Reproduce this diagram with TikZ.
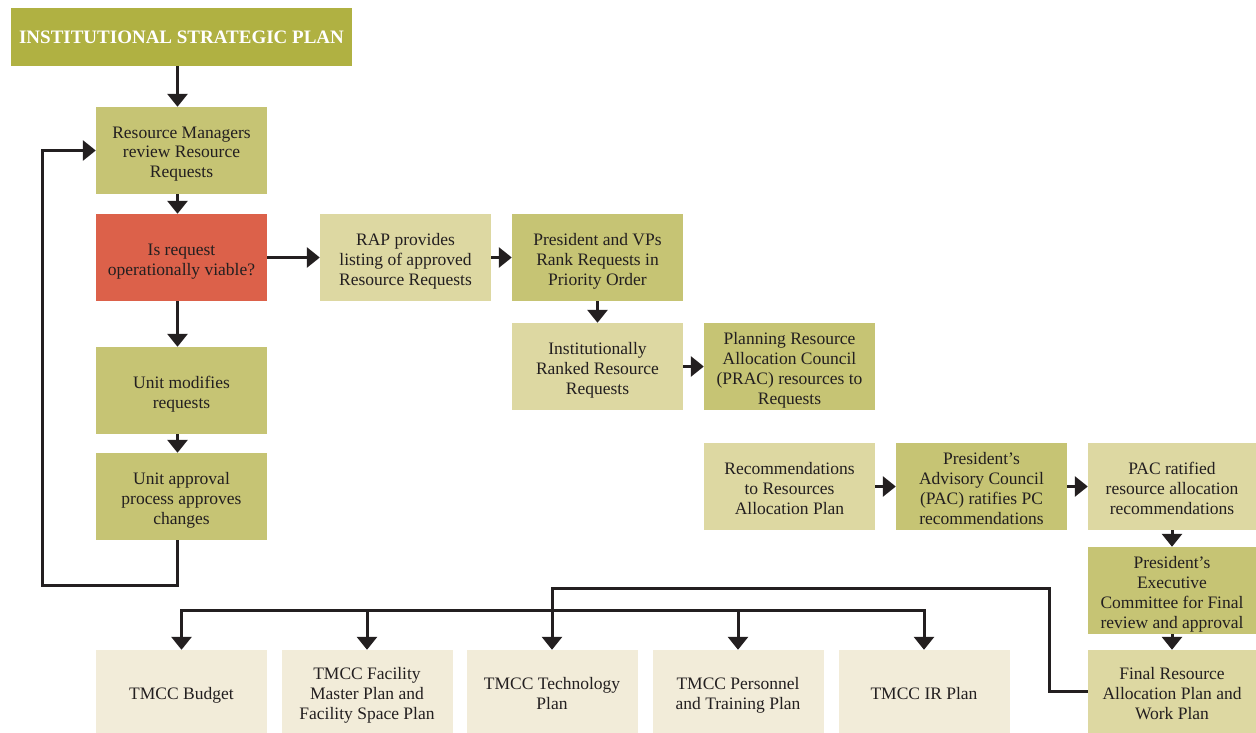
\documentclass[tikz,border=0pt]{standalone}
\usepackage{fontspec}
\setmainfont{Liberation Serif}
\usetikzlibrary{arrows.meta}
\definecolor{titlecol}{HTML}{B0B142}
\definecolor{midcol}{HTML}{C6C474}
\definecolor{lightcol}{HTML}{DDD8A2}
\definecolor{creamcol}{HTML}{F2ECD9}
\definecolor{redcol}{HTML}{DC614A}
\definecolor{inkcol}{HTML}{231F20}
\newcommand\bt[1]{\raisebox{-3.5pt}[\height][\depth]{\begin{tabular}{@{}c@{}}#1\end{tabular}}}
\begin{document}
\begin{tikzpicture}[x=1pt,y=-1pt,
  box/.style={inner sep=0pt, align=center, text=inkcol, font=\fontsize{17.5}{20}\selectfont, minimum width=171pt, minimum height=87pt},
  midbox/.style={box, fill=midcol},
  lightbox/.style={box, fill=lightcol},
  redbox/.style={box, fill=redcol},
  creambox/.style={box, fill=creamcol, minimum height=83pt},
  arr/.style={draw=inkcol, line width=3pt, -{Triangle[width=20pt,length=13pt]}},
  ln/.style={draw=inkcol, line width=3pt}
]
\useasboundingbox (0,0) rectangle (1256,733);

\node[fill=titlecol, inner sep=0pt, minimum width=341pt, minimum height=58pt, text=white, font=\fontsize{19}{22}\selectfont\bfseries] (title) at (181.5,37) {INSTITUTIONAL STRATEGIC PLAN};
\node[midbox] (rm) at (181.5,150.5) {\bt{Resource Managers\\review Resource\\Requests}};
\node[redbox] (q) at (181.5,257.5) {\bt{Is request\\operationally viable?}};
\node[midbox] (mod) at (181.5,390.5) {\bt{Unit modifies\\requests}};
\node[midbox] (appr) at (181.5,496.5) {\bt{Unit approval\\process approves\\changes}};
\node[lightbox] (rap) at (405.5,257.5) {\bt{RAP provides\\listing of approved\\Resource Requests}};
\node[midbox] (pvp) at (597.5,257.5) {\bt{President and VPs\\Rank Requests in\\Priority Order}};
\node[lightbox] (inst) at (597.5,366.5) {\bt{Institutionally\\Ranked Resource\\Requests}};
\node[midbox] (prac) at (789.5,366.5) {\bt{Planning Resource\\Allocation Council\\(PRAC) resources to\\Requests}};
\node[lightbox] (rec) at (789.5,486.5) {\bt{Recommendations\\to Resources\\Allocation Plan}};
\node[midbox] (pac) at (981.5,486.5) {\bt{President’s\\Advisory Council\\(PAC) ratifies PC\\recommendations}};
\node[lightbox, minimum width=168pt] (rat) at (1172,486.5) {\bt{PAC ratified\\resource allocation\\recommendations}};
\node[midbox, minimum width=168pt] (pec) at (1172,590.5) {\bt{President’s\\Executive\\Committee for Final\\review and approval}};
\node[lightbox, minimum width=168pt, minimum height=83pt] (final) at (1172,691.5) {\bt{Final Resource\\Allocation Plan and\\Work Plan}};

\node[creambox] (budget) at (181.5,691.5) {\bt{TMCC Budget}};
\node[creambox] (fac) at (367,691.5) {\bt{TMCC Facility\\Master Plan and\\Facility Space Plan}};
\node[creambox] (tech) at (552,691.5) {\bt{TMCC Technology\\Plan}};
\node[creambox] (pers) at (738,691.5) {\bt{TMCC Personnel\\and Training Plan}};
\node[creambox] (ir) at (924,691.5) {\bt{TMCC IR Plan}};

\draw[arr] ([xshift=-4pt]title.south) -- ([xshift=-4pt]rm.north);
\draw[arr] ([xshift=-4pt]rm.south) -- ([xshift=-4pt]q.north);
\draw[arr] ([xshift=-4pt]q.south) -- ([xshift=-4pt]mod.north);
\draw[arr] ([xshift=-4pt]mod.south) -- ([xshift=-4pt]appr.north);
\coordinate (lp) at (42,585);
\draw[arr] ([xshift=-4pt]appr.south) |- (lp) |- (rm.west);
\draw[arr] (q) -- (rap);
\draw[arr] (rap) -- (pvp);
\draw[arr] (pvp) -- (inst);
\draw[arr] (inst) -- (prac);
\draw[arr] (rec) -- (pac);
\draw[arr] (pac) -- (rat);
\draw[arr] (rat) -- (pec);
\draw[arr] (pec) -- (final);

\coordinate (fa) at (1049,588);
\coordinate (hub) at (552,610);
\draw[arr] (final.west) -| (fa) -- (tech.north |- fa) -- (tech.north);
\draw[arr] (hub) -| (budget.north);
\draw[arr] (hub) -| (fac.north);
\draw[arr] (hub) -| (pers.north);
\draw[arr] (hub) -| (ir.north);
\end{tikzpicture}
\end{document}
